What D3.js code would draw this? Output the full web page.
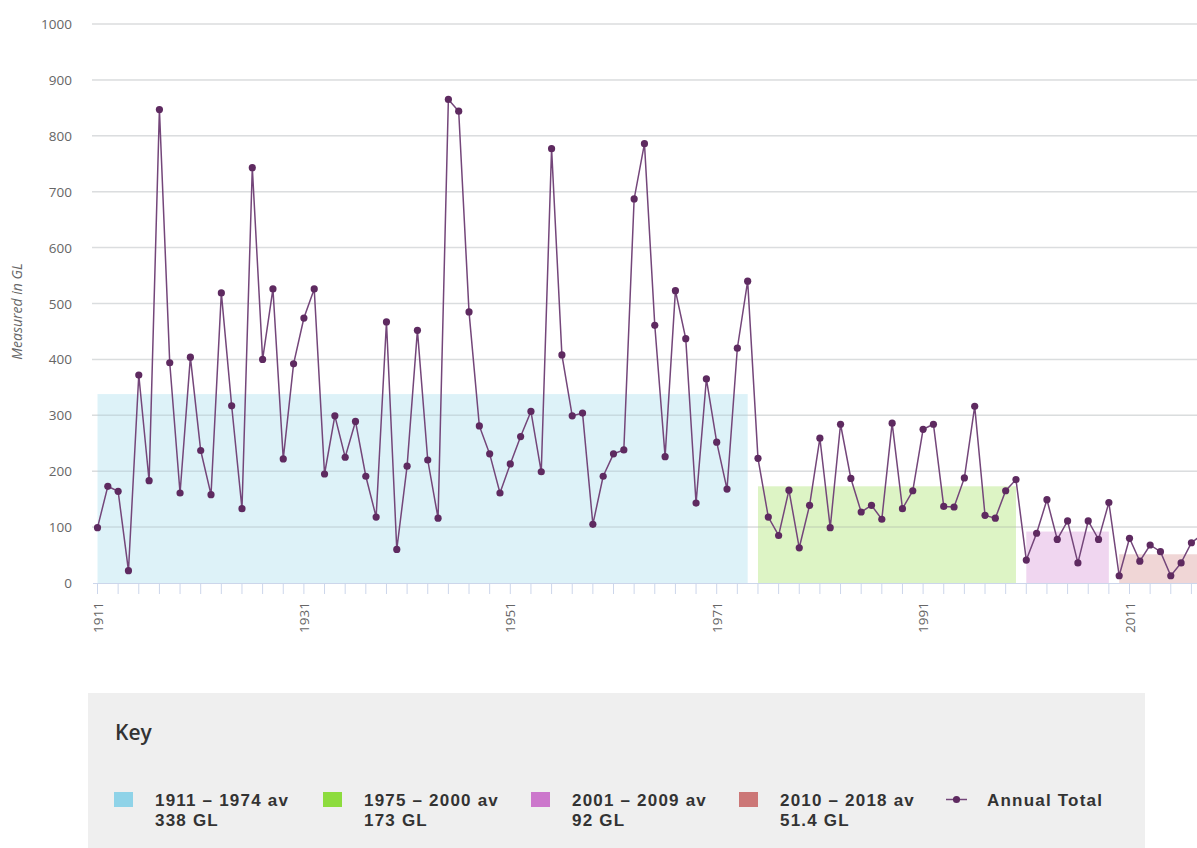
<!DOCTYPE html>
<html>
<head>
<meta charset="utf-8">
<script src="https://cdn.jsdelivr.net/npm/d3@7"></script>
<style>
  html, body { margin: 0; padding: 0; background: #ffffff; }
  svg { display: block; }
</style>
</head>
<body>
<svg id="chart" width="1197" height="848"></svg>
<script>
// ---- Data ----
const years = d3.range(1911, 2019);
const annualTotals = [
  99, 173, 164, 22, 372, 183, 847, 394, 161, 404,      // 1911-1920
  237, 158, 519, 317, 133, 743, 400, 526, 222, 392,    // 1921-1930
  474, 526, 195, 299, 225, 289, 191, 118, 467, 60,     // 1931-1940
  209, 452, 220, 116, 865, 844, 485, 281, 231, 161,    // 1941-1950
  213, 262, 307, 199, 777, 408, 299, 304, 105, 191,    // 1951-1960
  231, 238, 687, 786, 461, 226, 523, 437, 143, 365,    // 1961-1970
  252, 168, 420, 540, 223, 118, 85, 166, 63, 139,      // 1971-1980
  259, 99, 284, 187, 127, 139, 114, 286, 133, 165,     // 1981-1990
  275, 284, 137, 136, 188, 316, 121, 116, 165, 185,    // 1991-2000
  41, 89, 149, 78, 111, 36, 111, 78, 144, 13,          // 2001-2010
  80, 39, 68, 56, 13, 36, 72, 86                       // 2011-2018
];
const periodLabels = ["1911 – 1974 av", "1975 – 2000 av", "2001 – 2009 av", "2010 – 2018 av"];
const periodStart = [1911, 1975, 2001, 2010];
const periodEnd = [1974, 2000, 2009, 2018];
const periodAverages = [338, 173, 92, 51.4];
const periodAvgText = ["338 GL", "173 GL", "92 GL", "51.4 GL"];
const periodColors = ["#8fd3e8", "#8ddc3e", "#cc77cc", "#cc7777"];
const yTicks = [0, 100, 200, 300, 400, 500, 600, 700, 800, 900, 1000];
const xLabelYears = [1911, 1931, 1951, 1971, 1991, 2011];
const yAxisTitle = "Measured in GL";
const seriesName = "Annual Total";
const keyTitle = "Key";

// ---- Layout ----
const svg = d3.select("#chart");
const x = d3.scaleLinear().domain([1911, 2018]).range([97.5, 97.5 + 107 * 10.32]);
const y = d3.scaleLinear().domain([0, 1000]).range([583, 24]);
const gridLeft = 92, gridRight = 1197;
const dotColor = "#5e2a60";
const lineStroke = "#74467a";
const axisFont = "'Open Sans', 'DejaVu Sans', sans-serif";

// gridlines
svg.append("g").selectAll("line").data(yTicks.filter(d => d > 0)).join("line")
  .attr("x1", gridLeft).attr("x2", gridRight)
  .attr("y1", d => y(d)).attr("y2", d => y(d))
  .attr("stroke", "#e0e0e0").attr("stroke-width", 1.5);

// period average rectangles
const periods = periodLabels.map((l, i) => ({ i, s: periodStart[i], e: periodEnd[i], v: periodAverages[i], c: periodColors[i] }));
svg.append("g").selectAll("rect").data(periods).join("rect")
  .attr("x", d => x(d.s))
  .attr("width", d => x(d.e) - x(d.s))
  .attr("y", d => y(d.v))
  .attr("height", d => y(0) - y(d.v))
  .attr("fill", d => d.c).attr("fill-opacity", 0.3);

// gridlines over rects (faint)
svg.append("g").selectAll("line").data(yTicks.filter(d => d > 0)).join("line")
  .attr("x1", gridLeft).attr("x2", gridRight)
  .attr("y1", d => y(d)).attr("y2", d => y(d))
  .attr("stroke", "#cfd8dc").attr("stroke-opacity", 0.35).attr("stroke-width", 1);

// y axis labels
svg.append("g").selectAll("text").data(yTicks).join("text")
  .attr("x", 72).attr("y", d => y(d) + 5)
  .attr("text-anchor", "end")
  .attr("font-family", axisFont).attr("font-size", 13.5)
  .attr("fill", "#666").text(d => d);

// y axis title
svg.append("text")
  .attr("transform", `translate(22,${y(500) + 8}) rotate(-90)`)
  .attr("text-anchor", "middle")
  .attr("font-family", axisFont).attr("font-size", 14).attr("font-style", "italic")
  .attr("fill", "#666").text(yAxisTitle);

// x axis line + ticks
svg.append("line").attr("x1", 93).attr("x2", gridRight)
  .attr("y1", 583.5).attr("y2", 583.5).attr("stroke", "#ccd6eb").attr("stroke-width", 1);
const tickYears = d3.range(1911, 2019, 2);
svg.append("g").selectAll("line").data(tickYears).join("line")
  .attr("x1", d => x(d)).attr("x2", d => x(d))
  .attr("y1", 583).attr("y2", 594)
  .attr("stroke", "#ccd6eb").attr("stroke-width", 1);
svg.append("g").selectAll("text").data(xLabelYears).join("text")
  .attr("transform", d => `translate(${x(d) + 5},602) rotate(-90)`)
  .attr("text-anchor", "end")
  .attr("font-family", axisFont).attr("font-size", 13.5)
  .attr("fill", "#666").text(d => d);

// line series
const pts = years.map((yr, i) => ({ yr, v: annualTotals[i] }));
svg.append("path").datum(pts)
  .attr("fill", "none").attr("stroke", lineStroke).attr("stroke-width", 1.5)
  .attr("d", d3.line().x(d => x(d.yr)).y(d => y(d.v)));
svg.append("g").selectAll("circle").data(pts).join("circle")
  .attr("cx", d => x(d.yr)).attr("cy", d => y(d.v)).attr("r", 3.6)
  .attr("fill", dotColor);

// ---- Legend ----
const legendFont = "'Liberation Sans', Arial, sans-serif";
svg.append("rect").attr("x", 88).attr("y", 693).attr("width", 1057).attr("height", 160)
  .attr("fill", "#efefef");
svg.append("text").attr("x", 115).attr("y", 740)
  .attr("font-family", "'Open Sans', sans-serif").attr("font-size", 21).attr("font-weight", 600)
  .attr("fill", "#333").text(keyTitle);

const legendX = [114, 323, 531, 739];
const lg = svg.append("g").selectAll("g").data(periods).join("g")
  .attr("transform", d => `translate(${legendX[d.i]},0)`);
lg.append("rect").attr("x", 0).attr("y", 792).attr("width", 19).attr("height", 15)
  .attr("fill", d => d.c);
const lt = lg.append("text")
  .attr("font-family", legendFont).attr("font-size", 17).attr("font-weight", 700)
  .attr("letter-spacing", 1.2).attr("fill", "#333");
lt.append("tspan").attr("x", 41).attr("y", 806).text(d => periodLabels[d.i]);
lt.append("tspan").attr("x", 41).attr("y", 825.5).text(d => periodAvgText[d.i]);

svg.append("line").attr("x1", 946).attr("x2", 967).attr("y1", 799.5).attr("y2", 799.5)
  .attr("stroke", lineStroke).attr("stroke-width", 1.5);
svg.append("circle").attr("cx", 956.5).attr("cy", 799.5).attr("r", 3.6).attr("fill", dotColor);
svg.append("text").attr("x", 987).attr("y", 806)
  .attr("font-family", legendFont).attr("font-size", 17).attr("font-weight", 700)
  .attr("letter-spacing", 1.2).attr("fill", "#333").text(seriesName);
</script>
</body>
</html>
